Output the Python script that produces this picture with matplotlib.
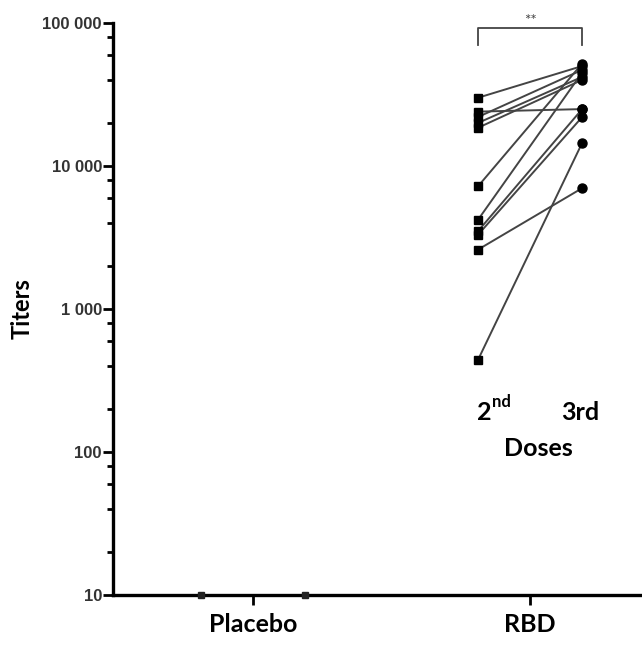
import numpy as np
import matplotlib.pyplot as plt
from matplotlib import font_manager
from matplotlib.ticker import FixedLocator, FuncFormatter, LogLocator, NullFormatter

# groups
groups = ['Placebo', 'RBD']
placebo_titers = [10, 10]

# paired titers per subject, RBD group
dose2 = [30000, 24000, 22000, 20000, 18500, 7200, 4200, 3500, 3300, 2600, 440]
dose3 = [50000, 25000, 47000, 42000, 40000, 52000, 45000, 25000, 22000, 7000, 14500]

plt.rcParams['font.family'] = ['Lato', 'DejaVu Sans']

names = {f.name for f in font_manager.fontManager.ttflist}
tick_font = 'Liberation Sans Narrow' if 'Liberation Sans Narrow' in names else 'Liberation Sans'
tick_size = 13 if tick_font == 'Liberation Sans Narrow' else 12

fig = plt.figure(figsize=(6.42, 6.47), dpi=100)
ax = fig.add_axes([113 / 642, 52 / 647, 529 / 642, 572 / 647])

off = 0.188
x_pos = np.arange(len(groups))

# placebo: all at detection floor
ax.plot([x_pos[0] - off, x_pos[0] + off], placebo_titers, 's', color='#222222',
        ms=4, clip_on=False, zorder=5)

# RBD paired lines
for a, b in zip(dose2, dose3):
    ax.plot([x_pos[1] - off, x_pos[1] + off], [a, b], '-', color='#444444', lw=1.4,
            zorder=2)
ax.plot([x_pos[1] - off] * len(dose2), dose2, 's', color='black', ms=6, zorder=3)
ax.plot([x_pos[1] + off] * len(dose3), dose3, 'o', color='black', ms=6.5, zorder=3)

ax.set_yscale('log')
ax.set_ylim(10, 100000)
ax.set_xlim(-0.505, 1.404)

ax.yaxis.set_major_locator(FixedLocator([10, 100, 1000, 10000, 100000]))
ax.yaxis.set_major_formatter(FuncFormatter(lambda v, p: f'{int(round(v)):,}'.replace(',', ' ')))
ax.yaxis.set_minor_locator(LogLocator(base=10, subs=[2, 4, 6, 8]))
ax.yaxis.set_minor_formatter(NullFormatter())

ax.set_xticks(x_pos)
ax.set_xticklabels(groups, fontsize=18, fontweight='bold')

for s in ['top', 'right']:
    ax.spines[s].set_visible(False)
for s in ['left', 'bottom']:
    ax.spines[s].set_linewidth(2.4)

ax.tick_params(axis='y', which='major', length=7, width=2, pad=1,
               labelsize=tick_size, labelcolor='#333333')
for lab in ax.get_yticklabels():
    lab.set_family([tick_font, 'DejaVu Sans'])
    lab.set_fontweight('bold')
ax.tick_params(axis='y', which='minor', length=4, width=2)
ax.tick_params(axis='x', length=7, width=2, pad=6)

ax.set_ylabel('Titers', fontsize=17, fontweight='bold', labelpad=6)

# significance bracket
x1, x2 = x_pos[1] - off, x_pos[1] + off
ax.plot([x1, x1, x2, x2], [70000, 93000, 93000, 70000], color='#444444', lw=1.3,
        clip_on=False)
ax.text(x_pos[1], 104000, '**', ha='center', va='center', fontsize=11,
        color='#444444', clip_on=False)

# dose labels
ax.text(0.86, 190, '2', ha='right', va='center', fontsize=18, fontweight='bold')
ax.text(0.862, 222, 'nd', ha='left', va='center', fontsize=12, fontweight='bold')
ax.text(1.18, 190, '3rd', ha='center', va='center', fontsize=18, fontweight='bold')
ax.text(1.03, 106, 'Doses', ha='center', va='center', fontsize=18, fontweight='bold')

fig.savefig('out.png', dpi=100)
